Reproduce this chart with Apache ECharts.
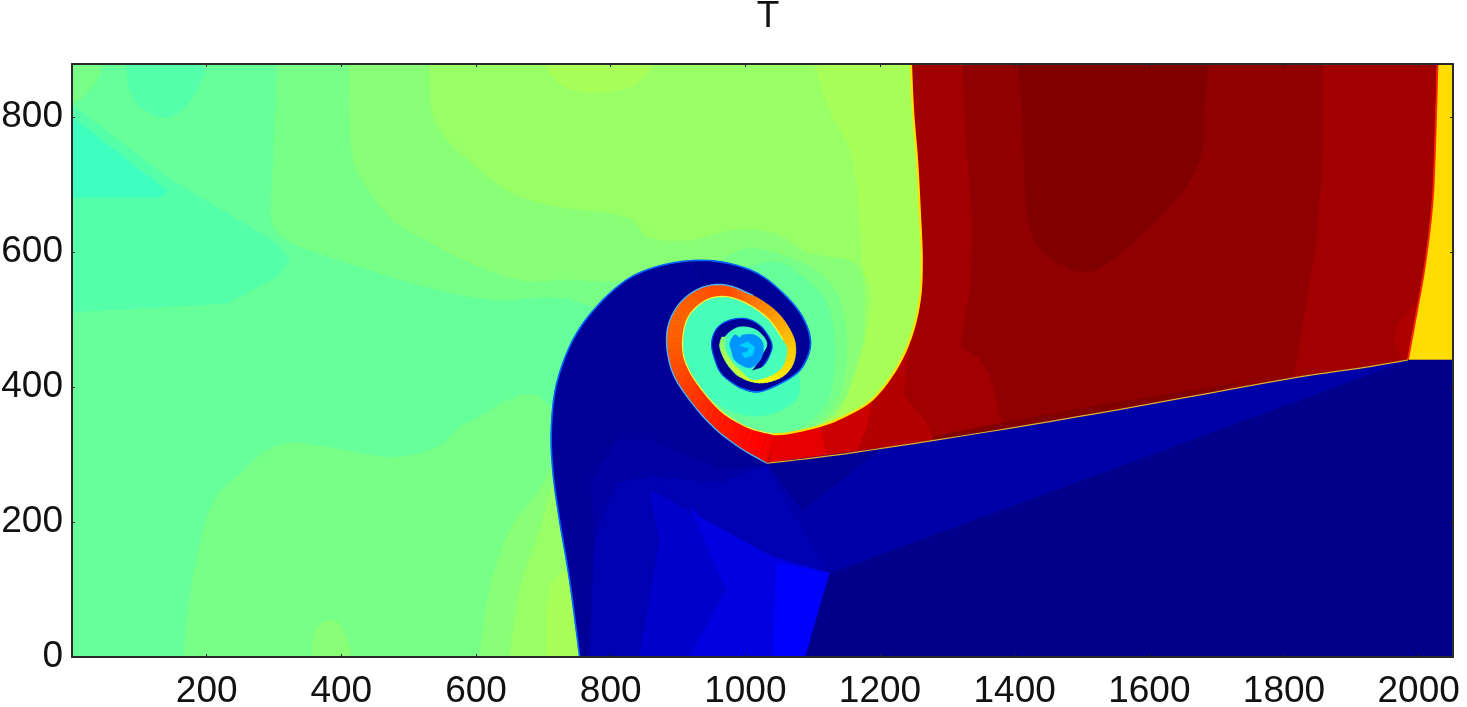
<!DOCTYPE html>
<html><head><meta charset="utf-8">
<style>html,body{margin:0;padding:0;background:#fff}#c{width:1467px;height:707px}</style>
<script src="https://cdn.jsdelivr.net/npm/echarts@6/dist/echarts.min.js"></script>
</head><body><div id="c"></div>
<script>
// Axis extents and ticks
const xMax = 2051, yMax = 878.5;
const chartTitle = 'T';
const tickStep = 200;

// Field outlines in data units
const domain = [[0,0],[2051,0],[2051,878.5],[0,878.5]];
const cornerTL = [[0,878.5],[46,878.5],[38,855],[19,833],[0,818]];
const lobeTop = [[81,878.5],[190,878.5],[185,840],[163,810],[135,800],[101,815],[83,848]];
const wedgeLeft = [[0,818],[141,711],[304,613],[323,588],[304,563],[230,524],[0,511]];
const triangleLeft = [[0,800],[142,690],[130,681],[0,681]];
const lowerGreen = [[167,0],[170,55],[185,144],[209,228],[245,267],[319,317],[467,296],[542,311],[595,351],[714,366],[784,0]];
const lobeBottom = [[356,0],[360,36],[375,52],[393,52],[409,25],[415,0]];
const footA = [[605,0],[620,99],[650,188],[695,247],[740,300],[784,0]];
const footB = [[650,0],[665,99],[695,188],[717,262],[760,300],[784,0]];
const footC = [[705,0],[706,74],[720,119],[760,119],[770,0]];
const upperA = [[305,878.5],[301,785],[297,692],[298,643],[328,613],[427,578],[527,548],[625,529],[769,521],[932,381],[1081,336],[1300,300],[1300,878.5]];
const upperB = [[412,878.5],[412,821],[418,736],[444,687],[481,643],[525,618],[582,588],[668,558],[761,558],[932,529],[1080,330],[1300,300],[1300,878.5]];
const upperC = [[531,878.5],[534,810],[557,766],[594,732],[631,702],[668,681],[724,667],[825,652],[856,622],[919,618],[981,633],[1044,628],[1094,599],[1169,578],[1177,484],[1170,410],[1140,351],[1300,351],[1300,878.5]];
const upperD = [[1103,878.5],[1125,810],[1157,747],[1169,662],[1175,578],[1188,539],[1182,489],[1161,415],[1142,366],[1125,342],[1300,342],[1300,878.5]];
const topPatch = [[701,878.5],[724,850],[763,837],[825,843],[859,870],[859,878.5]];
const haloA = [[1041,327],[1103,344],[1140,388],[1151,470],[1133,544],[1081,585],[992,603],[932,529],[932,336]];
const haloB = [[910,440],[928,406],[962,366],[1002,341],[1041,330],[1081,339],[1114,366],[1129,403],[1133,470],[1118,529],[1081,566],[1036,585],[932,544]];
const haloC = [[902,470],[928,406],[969,369],[1021,357],[1066,373],[1081,403],[1066,470],[1036,507],[977,539],[928,524]];

const contact = [[1246,878.5],[1249,810],[1255,736],[1259,662],[1262,588],[1259,529],[1246,474],[1223,425],[1188,381],[1146,356],[1110,342],[1066,332],[1041,330]];
const shock = [[1032,287],[1110,296],[1189,307],[1356,333],[1523,361],[1690,391],[1823,415],[1913,428],[1984,440]];
const frontRight = [[1984,440],[1997,510],[2009,578],[2020,667],[2024,747],[2028,878.5]];

const hotDark = [[1323,878.5],[1327,785],[1338,637],[1335,548],[1320,459],[1351,440],[1366,410],[1379,356],[1385,338],[1523,361],[1690,391],[1813,413],[1823,470],[1846,607],[1856,717],[1858,878.5]];
const hotCore = [[1406,878.5],[1412,785],[1416,687],[1427,622],[1458,588],[1504,570],[1544,588],[1596,633],[1647,687],[1678,747],[1682,821],[1688,878.5]];
const hotStrip = [[1200,310],[1356,342],[1523,373],[1734,406],[1690,391],[1523,361],[1356,333]];
const hotLowerAEdge = [[1110,296],[1189,307],[1280,320],[1266,351],[1234,388]];
const hotLowerBEdge = [[1035,288],[1165,304],[1180,340]];
const hotLowerCEdge = [[1035,288],[1120,300]];
const hotRightLobe = [[1993,524],[1970,495],[1964,470],[1975,443],[1984,440],[1997,510]];
const gasCorners = [[2028,878.5],[2051,878.5],[2051,440]];

const coldCorners = [[2051,440],[2051,0],[1088,0],[1124,124]];
const wedgeCorner = [[1124,124]];
const coldKink = [[1032,287],[1085,218],[1202,309]];

const bandOuter = [[1032,287],[992,310],[952,341],[917,381],[892,421],[883,465],[888,499],[907,529],[937,548],[972,551],[1011,536],[1047,511],[1069,480],[1075,455],[1069,430],[1051,413],[1021,406],[992,415],[972,436],[962,459],[965,474]];
const bandInner = [[1041,330],[1002,341],[962,366],[928,406],[910,440],[907,470],[913,499],[928,519],[950,532],[977,533],[1007,521],[1036,499],[1056,470],[1063,455],[1056,430],[1036,415],[1011,410],[996,421],[978,440],[969,459],[972,474]];
const bandValues = [0.885,0.865,0.845,0.82,0.80,0.785,0.78,0.785,0.80,0.80,0.76,0.72,0.69,0.675,0.66,0.64,0.60,0.57,0.55,0.52,0.50];

const vortexLeft = [[754,0],[739,114],[724,203],[714,277],[712,341],[720,406],[744,470],[779,519],[824,559],[868,578],[917,587]];
const vortexCorners = [[1124,124],[1106,80],[1088,0]];
const blueShade = [[772,262],[809,322],[858,322],[962,277],[1033,283],[962,258],[858,267],[809,258],[776,173]];
const blueMid = [[858,267],[962,258],[1033,283],[1124,124],[1041,148],[932,207]];
const blueA = [[769,0],[776,173],[809,258],[858,267],[932,207],[843,0]];
const blueB = [[843,0],[873,173],[858,247],[932,207],[1041,148],[1124,124],[1088,0]];
const blueC = [[917,0],[972,99],[917,225],[932,207],[1041,148],[1124,124],[1088,0]];
const blueD = [[1041,0],[1047,139],[1124,124],[1088,0]];

const armEdge = [[917,587],[966,585],[1017,569],[1056,539],[1085,504],[1097,465],[1085,430],[1061,410],[1021,393],[992,399],[966,418],[955,440],[950,465],[958,487],[977,499],[1002,501],[1024,489],[1039,465],[1036,447],[1026,431],[1010,425]];
const ringInner = [[1010,425],[1024,447],[1032,465],[1017,484],[992,489],[972,477],[965,459],[972,436],[992,415],[1021,406]];
const core = [[972,477],[992,489],[1017,484],[1032,465],[1024,447],[1010,425],[992,415],[972,436],[965,459]];
const eye = [[977,465],[984,477],[992,473],[996,477],[1014,477],[1026,465],[1024,443],[1011,430],[999,430],[984,440],[980,452]];
const eyeSwirl = [[992,462],[1003,467],[1014,459],[1011,447],[999,443],[995,450],[1003,452],[1006,458],[999,459]];

// Draw-time path smoothing (same role as a line's "smooth" option)
function curve(p,n){
  n=n||5; const out=[], L=p.length;
  for(let i=0;i<L-1;i++){
    const a=p[Math.max(i-1,0)],b=p[i],c=p[i+1],d=p[Math.min(i+2,L-1)];
    for(let k=0;k<n;k++){
      const t=k/n,t2=t*t,t3=t2*t;
      out.push([0,1].map(j=>0.5*(2*b[j]+(c[j]-a[j])*t+(2*a[j]-5*b[j]+4*c[j]-d[j])*t2+(3*b[j]-a[j]-3*c[j]+d[j])*t3)));
    }
  }
  out.push(p[L-1]);
  return out;
}
function loop(p){
  const q=[p[p.length-1]].concat(p,[p[0],p[1]]);
  return curve(q).slice(5,-5);
}

const contactPath = curve(contact), shockPath = curve(shock), rightPath = curve(frontRight);
const hotField = contactPath.concat(shockPath, rightPath);
const hotLowerA = contactPath.slice(30).concat(hotLowerAEdge);
const hotLowerB = contactPath.slice(40).concat(hotLowerBEdge);
const hotLowerC = contactPath.slice(50).concat(hotLowerCEdge);
const hotGas = gasCorners.concat(shockPath.slice(-1), rightPath);
const coldField = shockPath.concat(coldCorners);
const coldWedge = shockPath.concat(wedgeCorner);
const vortexBlue = curve(vortexLeft).concat(curve(bandOuter.slice(0,9).reverse()), vortexCorners);
const arm = curve(armEdge).concat(curve(ringInner.concat(bandOuter.slice(8,16).reverse())));

// Painter's order: [T level, outline]
const lowerLayers = [
  [0.475,domain],[0.492,cornerTL],[0.458,curve(lobeTop)],[0.458,wedgeLeft],[0.437,triangleLeft],
  [0.492,curve(lowerGreen)],[0.508,curve(lobeBottom)],[0.508,curve(footA)],[0.525,curve(footB)],[0.54,curve(footC)],
  [0.492,curve(upperA)],[0.508,curve(upperB)],[0.525,curve(upperC)],[0.54,curve(upperD)],[0.54,curve(topPatch)],
  [0.492,loop(haloA)],[0.475,loop(haloB)],[0.445,loop(haloC)],
  [0.968,hotField],[0.983,hotDark],[1,curve(hotCore)],[1,hotStrip],[0.95,hotLowerA],[0.925,hotLowerB],[0.9,hotLowerC],[0.955,curve(hotRightLobe)],[0.658,hotGas],
  [0.01,coldField],[0.04,coldWedge],[0.02,coldKink],
  [0.025,vortexBlue],[0.035,blueShade],[0.05,blueMid],[0.05,blueA],[0.075,blueB],[0.095,blueC],[0.125,blueD],
  [0.02,arm],[0.44,loop(core)]
];
const upperLayers = [[0.27,loop(eye)],[0.33,eyeSwirl]];
const outerFine = curve(bandOuter), innerFine = curve(bandInner);
const bandLayers = outerFine.slice(0,-1).map((p,i)=>{
  const s=Math.floor(i/5), f=(i%5)/5;
  return [bandValues[s]+(bandValues[s+1]-bandValues[s])*f,[p,outerFine[i+1],innerFine[i+1],innerFine[i]]];
});
const layers = lowerLayers.concat(bandLayers, upperLayers);

// Thin fronts between regions: [colour, width, path]
const fronts = [
  ['#ffe000',2.2,contactPath],
  ['#ff2000',1.8,rightPath],
  ['#e8b020',1.2,shockPath],
  ['#0068ff',1.6,curve(vortexLeft.concat(armEdge.slice(1,10)))],
  ['#0050f0',1.2,curve(armEdge.slice(9,20))],
  ['#40b8ff',1.3,curve(bandOuter.slice(0,11))],
  ['#e8ff40',1.3,curve(bandInner.slice(0,13))]
];

const jetStops = [[0,0,0,128],[0.125,0,0,255],[0.375,0,255,255],[0.625,255,255,0],[0.875,255,0,0],[1,128,0,0]];
function jet(t){
  for(let i=1;i<jetStops.length;i++){
    const a=jetStops[i-1],b=jetStops[i];
    if(t<=b[0]){
      const f=(t-a[0])/(b[0]-a[0]);
      return 'rgb('+[1,2,3].map(k=>Math.round(a[k]+(b[k]-a[k])*f)).join(',')+')';
    }
  }
  return 'rgb(128,0,0)';
}

const fontName = '"Liberation Sans", Arial, sans-serif';
const frame = {show:true,onZero:false,lineStyle:{color:'#2a2a2a',width:2}};
const tick = {show:true,inside:true,length:3,lineStyle:{color:'#222',width:1}};
const label = {color:'#111',fontSize:37,fontFamily:fontName,formatter:v=>String(v)};

const chart = echarts.init(document.getElementById('c'),null,{renderer:'canvas'});
chart.setOption({
  animation:false,
  backgroundColor:'#fff',
  title:{text:chartTitle,left:763,textAlign:'center',top:-7,textStyle:{fontSize:37,fontWeight:'normal',color:'#111',fontFamily:fontName}},
  grid:{left:72,right:14,top:64,bottom:50,containLabel:false,outerBoundsMode:'none'},
  xAxis:[
    {type:'value',min:0,max:xMax,interval:tickStep,position:'bottom',z:10,splitLine:{show:false},axisLine:frame,axisTick:tick,
     axisLabel:Object.assign({margin:16,showMinLabel:false,showMaxLabel:false},label)},
    {type:'value',min:0,max:xMax,interval:tickStep,position:'top',z:10,splitLine:{show:false},axisLine:frame,axisTick:tick,axisLabel:{show:false}}
  ],
  yAxis:[
    {type:'value',min:0,max:yMax,interval:tickStep,position:'left',z:10,splitLine:{show:false},axisLine:frame,axisTick:tick,
     axisLabel:Object.assign({margin:9,showMaxLabel:false},label)},
    {type:'value',min:0,max:yMax,interval:tickStep,position:'right',z:10,splitLine:{show:false},axisLine:frame,axisTick:tick,axisLabel:{show:false}}
  ],
  series:[
    {type:'custom',name:'T',silent:true,clip:true,z:2,
     data:layers.map((l,i)=>[i]),
     renderItem:function(params,api){
       const l=layers[params.dataIndex], c=jet(l[0]);
       return {type:'polygon',shape:{points:l[1].map(p=>api.coord(p))},style:{fill:c,stroke:c,lineWidth:0.6}};
     }},
    {type:'custom',name:'fronts',silent:true,clip:true,z:3,
     data:fronts.map((f,i)=>[i]),
     renderItem:function(params,api){
       const f=fronts[params.dataIndex];
       return {type:'polyline',shape:{points:f[2].map(p=>api.coord(p))},style:{fill:null,stroke:f[0],lineWidth:f[1]}};
     }}
  ]
});
</script></body></html>
